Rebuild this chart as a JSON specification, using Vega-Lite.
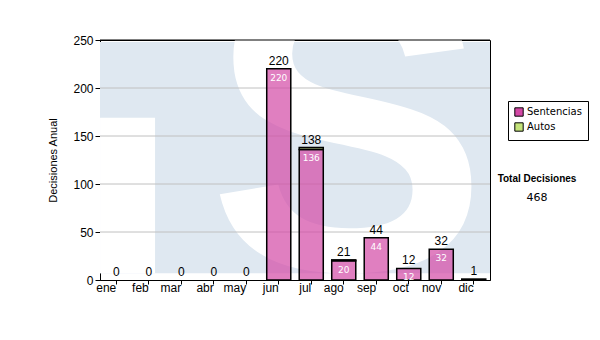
{
  "$schema": "https://vega.github.io/schema/vega-lite/v6.json",
  "width": 390,
  "height": 240,
  "autosize": "none",
  "padding": {"left": 100, "top": 40, "right": 110, "bottom": 60},
  "background": "white",
  "config": {
    "font": "Liberation Sans",
    "view": {"stroke": "black", "strokeWidth": 1}
  },
  "title": {
    "text": "Total Decisiones",
    "subtitle": "468",
    "anchor": "end",
    "frame": "group",
    "align": "center",
    "dx": 47,
    "dy": 173,
    "font": "Liberation Sans",
    "fontSize": 10,
    "fontWeight": "bold",
    "color": "black",
    "subtitleFont": "DejaVu Sans",
    "subtitleFontSize": 11,
    "subtitleColor": "black",
    "subtitlePadding": 8
  },
  "datasets": {
    "bars": [
      {"mes": "jun", "tipo": "Sentencias", "orden": 1, "valor": 220},
      {"mes": "jul", "tipo": "Sentencias", "orden": 1, "valor": 136},
      {"mes": "ago", "tipo": "Sentencias", "orden": 1, "valor": 20},
      {"mes": "sep", "tipo": "Sentencias", "orden": 1, "valor": 44},
      {"mes": "oct", "tipo": "Sentencias", "orden": 1, "valor": 12},
      {"mes": "nov", "tipo": "Sentencias", "orden": 1, "valor": 32},
      {"mes": "jul", "tipo": "Autos", "orden": 2, "valor": 2},
      {"mes": "ago", "tipo": "Autos", "orden": 2, "valor": 1},
      {"mes": "dic", "tipo": "Autos", "orden": 2, "valor": 1}
    ],
    "totales": [
      {"mes": "ene", "total": 0},
      {"mes": "feb", "total": 0},
      {"mes": "mar", "total": 0},
      {"mes": "abr", "total": 0},
      {"mes": "may", "total": 0},
      {"mes": "jun", "total": 220},
      {"mes": "jul", "total": 138},
      {"mes": "ago", "total": 21},
      {"mes": "sep", "total": 44},
      {"mes": "oct", "total": 12},
      {"mes": "nov", "total": 32},
      {"mes": "dic", "total": 1}
    ],
    "grid": [{"v": 50}, {"v": 100}, {"v": 150}, {"v": 200}],
    "uno": [{"t": "S"}]
  },
  "layer": [
    {
      "data": {"name": "uno"},
      "mark": {"type": "rect", "color": "#dfe8f1", "clip": true},
      "encoding": {
        "y": {"datum": 7, "type": "quantitative"},
        "y2": {"datum": 248}
      }
    },
    {
      "data": {"name": "uno"},
      "mark": {"type": "rect", "color": "white", "xOffset": -16.2, "x2Offset": 6.3, "clip": true},
      "encoding": {
        "x": {"datum": "ene", "type": "nominal", "scale": {"type": "band", "domain": ["ene","feb","mar","abr","may","jun","jul","ago","sep","oct","nov","dic"], "paddingInner": 0.26, "paddingOuter": 0.13}},
        "x2": {"datum": "feb"},
        "y": {"datum": 7, "type": "quantitative"},
        "y2": {"datum": 169}
      }
    },
    {
      "data": {"name": "uno"},
      "mark": {"type": "text", "clip": true, "font": "Liberation Sans", "fontWeight": "bold", "fontSize": 420, "color": "white", "baseline": "alphabetic", "align": "center", "dx": 4},
      "encoding": {
        "x": {"datum": "ago", "type": "nominal", "scale": {"type": "band"}},
        "y": {"datum": 11, "type": "quantitative"},
        "text": {"field": "t"}
      }
    },
    {
      "data": {"name": "grid"},
      "mark": {"type": "rule", "color": "#c0c0c0", "strokeWidth": 1},
      "encoding": {
        "y": {"field": "v", "type": "quantitative"}
      }
    },
    {
      "data": {"name": "uno"},
      "mark": {"type": "rule", "color": "black", "strokeWidth": 1},
      "encoding": {
        "y": {"datum": 250, "type": "quantitative"}
      }
    },
    {
      "data": {"name": "bars"},
      "mark": {"type": "bar", "stroke": "black", "strokeWidth": 1.5, "fillOpacity": 0.7},
      "encoding": {
        "x": {
          "field": "mes",
          "type": "nominal",
          "sort": ["ene","feb","mar","abr","may","jun","jul","ago","sep","oct","nov","dic"],
          "scale": {"type": "band", "domain": ["ene","feb","mar","abr","may","jun","jul","ago","sep","oct","nov","dic"], "paddingInner": 0.26, "paddingOuter": 0.13},
          "axis": {
            "orient": "bottom",
            "title": null,
            "bandPosition": 0.5,
            "labelAngle": 0,
            "labelFontSize": 12,
            "labelColor": "black",
            "labelPadding": 3,
            "tickSize": 4,
            "tickColor": "black",
            "domainColor": "black",
            "grid": false
          }
        },
        "y": {
          "field": "valor",
          "type": "quantitative",
          "aggregate": "sum",
          "stack": "zero",
          "scale": {"domain": [0, 250], "nice": false},
          "axis": {
            "orient": "left",
            "title": "Decisiones Anual",
            "titleFontSize": 11,
            "titleFontWeight": "normal",
            "titleColor": "black",
            "titlePadding": 14,
            "values": [0, 50, 100, 150, 200, 250],
            "labelFontSize": 12,
            "labelColor": "black",
            "tickSize": 5,
            "tickColor": "black",
            "domainColor": "black",
            "grid": false,
            "labelPadding": 2
          }
        },
        "color": {
          "field": "tipo",
          "type": "nominal",
          "scale": {"domain": ["Sentencias", "Autos"], "range": ["#d348a5", "#c4e37a"]},
          "legend": {
            "title": null,
            "orient": "none",
            "legendX": 408,
            "legendY": 61,
            "direction": "vertical",
            "strokeColor": "black",
            "fillColor": "white",
            "padding": 6,
            "symbolType": "square",
            "symbolSize": 70,
            "symbolStrokeColor": "black",
            "symbolStrokeWidth": 1,
            "labelFont": "DejaVu Sans",
            "labelFontSize": 10,
            "labelColor": "black",
            "rowPadding": 1,
            "labelOffset": 3
          }
        },
        "order": {"field": "orden"}
      }
    },
    {
      "data": {"name": "bars"},
      "transform": [{"filter": "datum.tipo == 'Sentencias' && datum.valor >= 5"}],
      "mark": {"type": "text", "color": "white", "fontSize": 9, "font": "DejaVu Sans", "baseline": "top", "dy": 5},
      "encoding": {
        "x": {"field": "mes", "type": "nominal", "scale": {"type": "band"}},
        "y": {"field": "valor", "type": "quantitative"},
        "text": {"field": "valor"}
      }
    },
    {
      "data": {"name": "totales"},
      "mark": {"type": "text", "color": "black", "fontSize": 12, "baseline": "bottom", "dy": -1},
      "encoding": {
        "x": {"field": "mes", "type": "nominal", "scale": {"type": "band"}},
        "y": {"field": "total", "type": "quantitative"},
        "text": {"field": "total"}
      }
    }
  ]
}
